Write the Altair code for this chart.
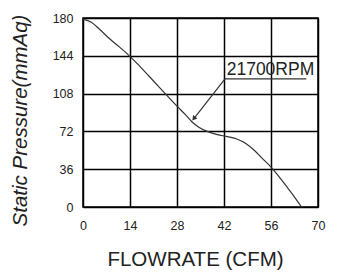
import altair as alt
import pandas as pd

flow = [0, 2.5, 5, 8, 11, 14, 17.5, 21, 24.5, 28, 30.5, 32.5, 34.5, 37, 40, 43, 46, 48.5, 51, 53.5, 56, 58.5, 61, 63, 65.1]
pressure = [179, 176, 169, 160, 152, 143.5, 132, 120, 108, 96, 88, 81, 76, 72, 69, 67, 64.5, 60.5, 54, 46, 38, 28.5, 18, 9.5, 0]

x_ticks = [0, 14, 28, 42, 56, 70]
y_ticks = [0, 36, 72, 108, 144, 180]

label_text = ["21700RPM"]
label_x = [42.8]
label_y = [126]
underline_x = [42.3, 66.5]
underline_y = [122, 122]
leader_x = [42.3, 33.2]
leader_y = [122, 84.8]
arrow_x = [33.0]
arrow_y = [84.2]

FONT = "Liberation Sans"

curve_df = pd.DataFrame({"flow": flow, "pressure": pressure})

xs = alt.Scale(domain=[0, 70], nice=False, zero=False)
ys = alt.Scale(domain=[0, 180], nice=False, zero=False)

x_axis = alt.Axis(values=x_ticks, tickCount=12, grid=True, gridColor="#000", gridWidth=1.5, ticks=False,
                  domain=False, labelFont=FONT, labelFontSize=12.5, labelColor="#222",
                  labelPadding=12, labelOverlap=False, labelFlush=False,
                  title="FLOWRATE (CFM)", titleFont=FONT, titleFontSize=20.5,
                  titleFontWeight="normal", titleColor="#222", titleX=112, titleY=52,
                  titleAlign="center", titleBaseline="middle")
y_axis = alt.Axis(values=y_ticks, tickCount=12, grid=True, gridColor="#000", gridWidth=1.5, ticks=False,
                  domain=False, labelFont=FONT, labelFontSize=12.5, labelColor="#222",
                  labelPadding=10, labelOverlap=False, labelFlush=False,
                  title="Static  Pressure(mmAq)", titleFont=FONT, titleFontSize=20.5,
                  titleFontWeight="normal", titleFontStyle="italic", titleColor="#222",
                  titleX=-63, titleY=102, titleBaseline="middle", titleAlign="center", titleAngle=270)

curve = alt.Chart(curve_df).mark_line(color="#333", strokeWidth=1.2, interpolate="monotone").encode(
    x=alt.X("flow:Q", scale=xs, axis=x_axis),
    y=alt.Y("pressure:Q", scale=ys, axis=y_axis),
)

text = alt.Chart(pd.DataFrame({"t": label_text, "x": label_x, "y": label_y})).mark_text(
    align="left", baseline="alphabetic", font=FONT, fontSize=17.5, color="#222"
).encode(x=alt.X("x:Q", scale=xs), y=alt.Y("y:Q", scale=ys), text="t:N")

underline = alt.Chart(pd.DataFrame({"x": underline_x, "y": underline_y})).mark_line(
    color="#333", strokeWidth=1.2
).encode(x=alt.X("x:Q", scale=xs), y=alt.Y("y:Q", scale=ys))

leader = alt.Chart(pd.DataFrame({"x": leader_x, "y": leader_y})).mark_line(
    color="#333", strokeWidth=1.2
).encode(x=alt.X("x:Q", scale=xs), y=alt.Y("y:Q", scale=ys))

arrow = alt.Chart(pd.DataFrame({"x": arrow_x, "y": arrow_y})).mark_point(
    shape="triangle-up", angle=219, size=30, filled=True, color="#333", opacity=1
).encode(x=alt.X("x:Q", scale=xs), y=alt.Y("y:Q", scale=ys))

chart = alt.layer(curve, underline, leader, arrow, text).properties(
    width=235, height=189,
    autosize=alt.AutoSizeParams(type="none"),
    padding={"left": 83, "top": 18, "right": 28, "bottom": 65},
    background="white",
).configure_view(stroke="#000", strokeWidth=1.5)

chart.save("out.html", embed_options={"renderer": "svg", "actions": False})
